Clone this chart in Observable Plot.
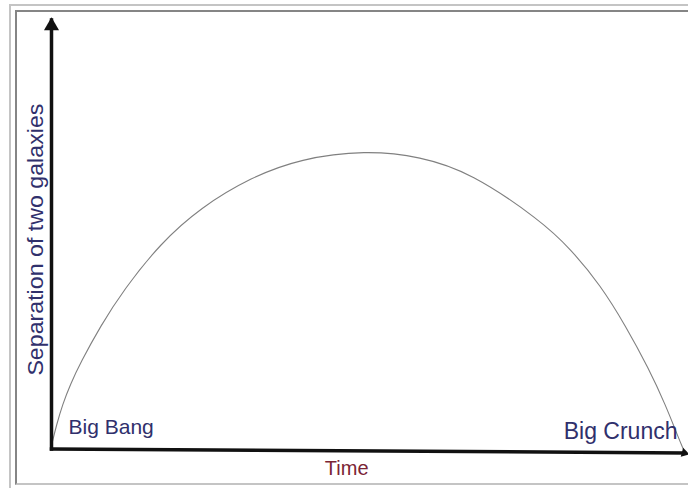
<!DOCTYPE html>
<html>
<head>
<meta charset="utf-8">
<script src="https://cdn.jsdelivr.net/npm/d3@7"></script>
<script src="https://cdn.jsdelivr.net/npm/@observablehq/plot@0.6"></script>
<style>
  html, body { margin: 0; padding: 0; background: #fff; }
  #wrap { position: relative; width: 688px; height: 488px; overflow: hidden; background: #fff; }
  #wrap svg { position: absolute; left: 0; top: 0; }
  .b { position: absolute; pointer-events: none; }
  #outer { left: 9px; top: 4px; width: 800px; height: 800px; border-top: 2px solid #c4c4c4; border-left: 2px solid #c4c4c4; }
  #inner { left: 15px; top: 10px; width: 800px; height: 471px; border-top: 2px solid #858585; border-left: 2px solid #858585; border-bottom: 2px solid #c4c4c4; }
</style>
</head>
<body>
<div id="wrap"><div id="outer" class="b"></div><div id="inner" class="b"></div></div>
<script>
// Curve: separation of two galaxies over time (arbitrary units 0–100)
const time       = [0, 0.79, 1.74, 3.0, 4.6, 7.75, 11.4, 17.2, 23.6, 31.5, 39.4, 49.7, 58.4, 66.3, 77.4, 82.1, 86.9, 90.8, 94.5, 97.2, 99.05, 100.2];
const separation = [1.2, 8.0, 14.8, 21.6, 28.8, 41.0, 53.0, 68.5, 80.5, 90.5, 96.8, 99.6, 97.5, 92.2, 76.2, 66.8, 54.5, 41.2, 26.8, 14.5, 4.5, -1.2];

// Axes (origin, ends)
const axisOrigin = {t: 0, s: 0};
const yAxisEnd = {t: 0, s: 143};
const xAxisEnd = {t: 100, s: -1.3};

// Labels
const eventLabels = ["Big Bang", "Big Crunch"];
const eventT = [2.7, 99.05];
const eventS = [7.2, 5.7];
const eventAnchor = ["start", "end"];
const eventSize = [21, 23];
const xLabel = "Time";
const xLabelPos = {t: 46.7, s: -6.5};
const yLabel = "Separation of two galaxies";
const yLabelPos = {t: -2.5, s: 69.8};

const curve = time.map((t, i) => ({t, s: separation[i]}));
const axes = [
  {x1: axisOrigin.t, y1: axisOrigin.s, x2: yAxisEnd.t, y2: yAxisEnd.s},
  {x1: axisOrigin.t, y1: axisOrigin.s, x2: xAxisEnd.t, y2: xAxisEnd.s}
];
const events = eventLabels.map((label, i) => ({label, t: eventT[i], s: eventS[i], anchor: eventAnchor[i], size: eventSize[i]}));

const navy = "#30306c";
const maroon = "#7b2434";

const chart = Plot.plot({
  width: 688,
  height: 488,
  margin: 0,
  x: {domain: [0, 100], range: [51, 683], axis: null},
  y: {domain: [0, 100], range: [448.5, 148.5], axis: null},
  style: {background: "transparent", fontFamily: "'Liberation Sans', Arial, sans-serif"},
  marks: [
    Plot.line(curve, {x: "t", y: "s", stroke: "#808080", strokeWidth: 1.1, curve: "basis"}),
    Plot.link(axes, {x1: "x1", y1: "y1", x2: "x2", y2: "y2", stroke: "#111", strokeWidth: 3.5, strokeLinecap: "square"}),
    Plot.dot([yAxisEnd], {x: "t", y: "s", symbol: "triangle", r: 5.6, fill: "#111", stroke: "none", dy: 6}),
    Plot.dot([xAxisEnd], {x: "t", y: "s", symbol: "triangle", r: 3.4, fill: "#111", stroke: "none", rotate: 105, dx: 1}),
    ...events.map(e => Plot.text([e], {x: "t", y: "s", text: "label", textAnchor: e.anchor, fontSize: e.size, fill: navy})),
    Plot.text([xLabelPos], {x: "t", y: "s", text: () => xLabel, fontSize: 20, fill: maroon}),
    Plot.text([yLabelPos], {x: "t", y: "s", text: () => yLabel, fontSize: 22, rotate: -90, fill: navy})
  ]
});
document.getElementById("wrap").prepend(chart);
// stretch the vertical label to the length seen in the reference
const yl = [...chart.querySelectorAll("text")].find(t => t.textContent === yLabel);
if (yl) { yl.setAttribute("textLength", 272); yl.setAttribute("lengthAdjust", "spacingAndGlyphs"); }
</script>
</body>
</html>
